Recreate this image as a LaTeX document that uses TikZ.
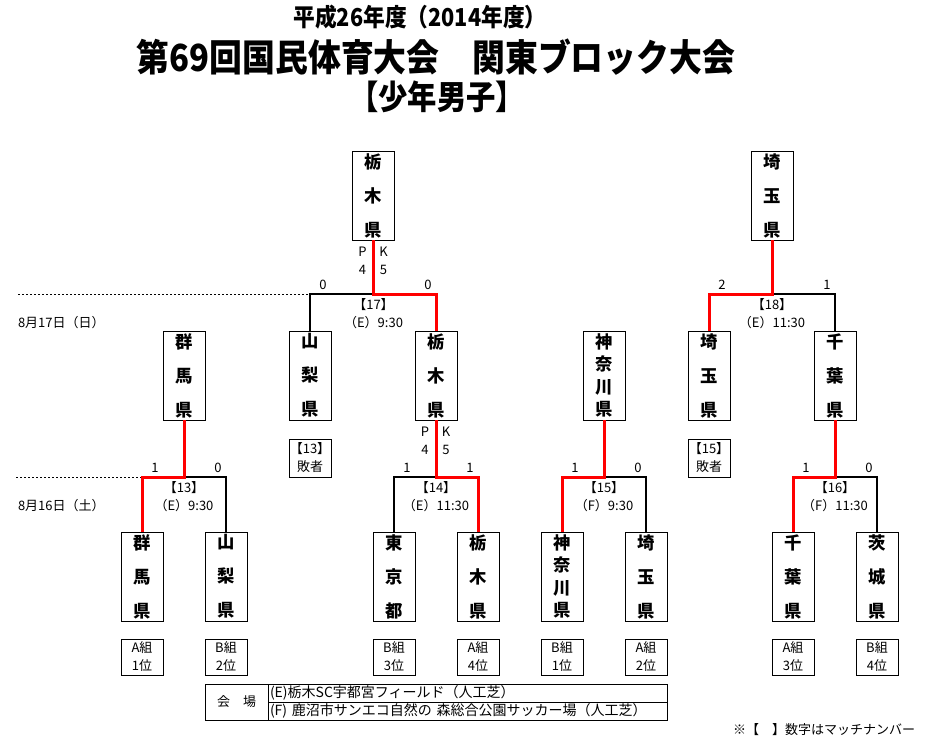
\documentclass[tikz,border=0pt]{standalone}
\usepackage{fontspec}
\setmainfont{Noto Sans CJK JP}
\newfontfamily\titlefont[FakeStretch=0.88]{Noto Sans CJK JP}
\usetikzlibrary{calc,positioning}
\tikzset{
	px/.style={x=0.75pt, y=-0.75pt},
	every node/.style={inner sep=0pt, outer sep=0pt},
	team/.style={draw, line width=0.75pt, minimum width=31.5pt, minimum height=66.75pt, align=center},
	teamfont/.style={font=\bfseries\fontsize{13}{#1}\selectfont},
	small/.style={font=\fontsize{9.75}{13.5}\selectfont, align=center},
	rank/.style={small, draw, line width=0.75pt, minimum width=31.5pt, minimum height=27pt},
	loser/.style={rank, minimum height=28.5pt},
	venue/.style={small, draw, line width=0.75pt, anchor=north west},
	venuerow/.style={venue, font=\fontsize{10.5}{13.5}\selectfont, minimum height=13.5pt,
		text width=296.25pt, inner xsep=1.5pt, align=left},
	win/.style={red, line width=2.25pt},
	lose/.style={black, line width=1.5pt},
	dots/.style={line width=0.75pt, dash pattern=on 1.5pt off 1.5pt},
	title/.style={font=\titlefont\bfseries\fontsize{#1}{#1}\selectfont}
}

\begin{document}
\begin{tikzpicture}[px]
  \useasboundingbox (0,0) rectangle (937,749);
  \node[title=18.5] (title1) at (420,17) {平成26年度（2014年度）};
  \node[title=28]   (title2) at (436,57) {第69回国民体育大会　関東ブロック大会};
  \node[title=25]   (title3) at (437,97) {【少年男子】};

  % 1回戦
  \foreach \n/\x/\t/\ls/\r in {gun1/142/群\\馬\\県/25.5/A組\\1位,
      yam1/226/山\\梨\\県/25.5/B組\\2位, tok1/394/東\\京\\都/25.5/B組\\3位,
      tch1/478/栃\\木\\県/25.5/A組\\4位, kng1/562/神\\奈\\川\\県/16.9/B組\\1位,
      sai1/646/埼\\玉\\県/25.5/A組\\2位, chb1/793/千\\葉\\県/25.5/A組\\3位,
      iba1/877/茨\\城\\県/25.5/B組\\4位} {
    \node[team, teamfont=\ls] (\n) at (\x,576.5) {\t};
    \node[rank, below=13.5pt of \n] (r\n) {\r};
  }
  % 2回戦
  \foreach \n/\x/\t/\ls in {gun2/184/群\\馬\\県/25.5, yam2/310/山\\梨\\県/25.5,
      tch2/436/栃\\木\\県/25.5, kng2/604/神\\奈\\川\\県/16.9,
      sai2/709/埼\\玉\\県/25.5, chb2/835/千\\葉\\県/25.5}
    \node[team, teamfont=\ls] (\n) at (\x,375.5) {\t};
  \node[team, teamfont=25.5] (tch3) at (373.5,195.5) {栃\\木\\県};
  \node[team, teamfont=25.5] (sai3) at (772,195.5) {埼\\玉\\県};
  \node[loser, below=14.25pt of yam2] (los13) {【13】\\敗者};
  \node[loser, below=14.25pt of sai2] (los15) {【15】\\敗者};

  \coordinate (row1) at (0,477);
  \coordinate (row2) at (0,294);
  \coordinate (m13) at (gun2 |- row1);
  \coordinate (m14) at (tch2 |- row1);
  \coordinate (m15) at (kng2 |- row1);
  \coordinate (m16) at (chb2 |- row1);
  \coordinate (m17) at (tch3 |- row2);
  \coordinate (m18) at (sai3 |- row2);
  \coordinate (e16) at (16,477);
  \coordinate (e17) at (18,294);

  \draw[dots] (e16) -- (gun1 |- row1);
  \draw[dots] (e17) -- (yam2 |- row2);
  \draw[lose] (m13) -| (yam1.north);
  \draw[lose] (m14) -| (tok1.north);
  \draw[lose] (m15) -| (sai1.north);
  \draw[lose] (m16) -| (iba1.north);
  \draw[lose] (m17) -| (yam2.north);
  \draw[lose] (m18) -| (chb2.north);
  \draw[win] (gun2.south) -- (m13) -| (gun1.north);
  \draw[win] (tch2.south) -- (m14) -| (tch1.north);
  \draw[win] (kng2.south) -- (m15) -| (kng1.north);
  \draw[win] (chb2.south) -- (m16) -| (chb1.north);
  \draw[win] (tch3.south) -- (m17) -| (tch2.north);
  \draw[win] (sai3.south) -- (m18) -| (sai2.north);

  \foreach \m/\a/\b/\sa/\sb/\v in {13/gun1/yam1/1/0/（E）9:30, 14/tok1/tch1/1/1/（E）11:30,
      15/kng1/sai1/1/0/（F）9:30, 16/chb1/iba1/1/0/（F）11:30,
      17/yam2/tch2/0/0/（E）9:30, 18/sai2/chb2/2/1/（E）11:30} {
    \node[small] (s\m l) at ($(\a.north |- m\m)+(13,-9)$) {\sa};
    \node[small] (s\m r) at ($(\b.north |- m\m)+(-8,-9)$) {\sb};
    \node[small] (i\m) at ($(m\m)+(0,20)$) {【\m】\\\v};
  }
  \foreach \t in {tch3,tch2} {
    \node[small] (\t p) at ($(\t.south)+(-11,11.5)$) {P};
    \node[small] (\t k) at ($(\t.south)+(10,11.5)$) {K};
    \node[small] (\t 4) at ($(\t.south)+(-11,30)$) {4};
    \node[small] (\t 5) at ($(\t.south)+(10,30)$) {5};
  }

  \node[small, anchor=west] (d17) at (18,323) {8月17日（日）};
  \node[small, anchor=west] (d16) at (18,506) {8月16日（土）};

  \node[venue, minimum width=47.25pt, minimum height=27pt] (kaijo) at (205,684) {会　場};
  \node[venuerow] (vE) at (kaijo.north east) {(E)栃木SC宇都宮フィールド（人工芝）};
  \node[venuerow] (vF) at (vE.south west) {(F) 鹿沼市サンエコ自然の 森総合公園サッカー場（人工芝）};
  \node[small, anchor=west] (note) at (733,730) {※【　】数字はマッチナンバー};
\end{tikzpicture}
\end{document}
